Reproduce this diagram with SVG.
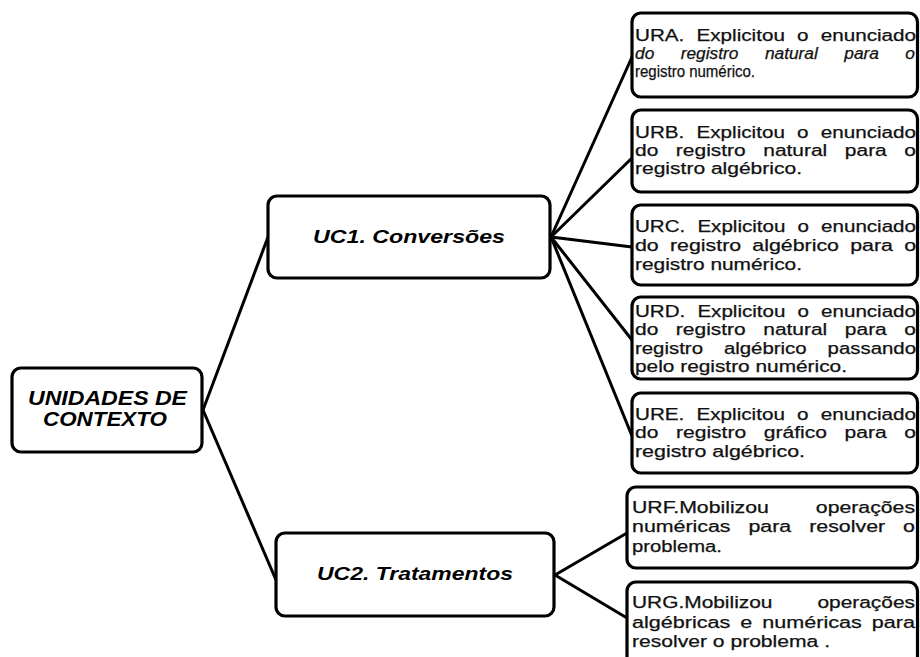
<svg xmlns="http://www.w3.org/2000/svg" width="920" height="657" viewBox="0 0 920 657">
<style>
.box{fill:#fff;stroke:#000;stroke-width:3.2}
.conn{fill:none;stroke:#000;stroke-width:3;stroke-linecap:round}
.hd{font-family:"Liberation Sans",Arial,sans-serif;font-weight:bold;font-style:italic;fill:#000}
.t{font-family:"Liberation Sans",Arial,sans-serif;font-size:16px;fill:#111;stroke:#111;stroke-width:0.25}
.it{font-style:italic}
</style>
<rect width="920" height="657" fill="#fff"/>
<g id="connectors">
<line class="conn" x1="203" y1="410" x2="268" y2="237"/>
<line class="conn" x1="203" y1="410" x2="276" y2="580"/>
<line class="conn" x1="551" y1="237" x2="632" y2="57"/>
<line class="conn" x1="551" y1="237" x2="632" y2="158"/>
<line class="conn" x1="551" y1="237" x2="632" y2="247"/>
<line class="conn" x1="551" y1="237" x2="632" y2="340"/>
<line class="conn" x1="551" y1="237" x2="632" y2="436"/>
<line class="conn" x1="555" y1="575" x2="627" y2="533"/>
<line class="conn" x1="555" y1="575" x2="627" y2="618"/>
</g>
<g id="root">
<rect class="box" x="12" y="368" width="190" height="84" rx="9"/>
<text class="hd" font-size="20" x="28" y="405" textLength="159" lengthAdjust="spacingAndGlyphs">UNIDADES DE</text>
<text class="hd" font-size="20" x="43" y="426" textLength="124" lengthAdjust="spacingAndGlyphs">CONTEXTO</text>
</g>
<g id="uc1">
<rect class="box" x="268" y="196" width="282" height="82" rx="9"/>
<text class="hd" font-size="19" x="313" y="243" textLength="192" lengthAdjust="spacingAndGlyphs">UC1. Conversões</text>
</g>
<g id="uc2">
<rect class="box" x="276" y="533" width="278" height="83" rx="9"/>
<text class="hd" font-size="19" x="317" y="580" textLength="196" lengthAdjust="spacingAndGlyphs">UC2. Tratamentos</text>
</g>
<g id="ura">
<rect class="box" x="632" y="13" width="285.5" height="84" rx="9"/>
<text class="t" x="635" y="41" word-spacing="5" textLength="281" lengthAdjust="spacingAndGlyphs">URA. Explicitou o enunciado</text>
<text class="t it" x="635" y="59" word-spacing="20" textLength="280" lengthAdjust="spacingAndGlyphs">do registro natural para o</text>
<text class="t" x="635" y="77" textLength="120" lengthAdjust="spacingAndGlyphs">registro numérico.</text>
</g>
<g id="urb">
<rect class="box" x="632" y="110" width="285.5" height="82" rx="9"/>
<text class="t" x="635" y="138" word-spacing="5" textLength="281" lengthAdjust="spacingAndGlyphs">URB. Explicitou o enunciado</text>
<text class="t" x="635" y="156" word-spacing="9" textLength="281" lengthAdjust="spacingAndGlyphs">do registro natural para o</text>
<text class="t" x="635" y="174" textLength="167" lengthAdjust="spacingAndGlyphs">registro algébrico.</text>
</g>
<g id="urc">
<rect class="box" x="632" y="205" width="285.5" height="80" rx="9"/>
<text class="t" x="635" y="232" word-spacing="5" textLength="281" lengthAdjust="spacingAndGlyphs">URC. Explicitou o enunciado</text>
<text class="t" x="635" y="251" word-spacing="4" textLength="281" lengthAdjust="spacingAndGlyphs">do registro algébrico para o</text>
<text class="t" x="635" y="270" textLength="167" lengthAdjust="spacingAndGlyphs">registro numérico.</text>
</g>
<g id="urd">
<rect class="box" x="632" y="297" width="285.5" height="82" rx="9"/>
<text class="t" x="635" y="317" word-spacing="5" textLength="281" lengthAdjust="spacingAndGlyphs">URD. Explicitou o enunciado</text>
<text class="t" x="635" y="335" word-spacing="9" textLength="281" lengthAdjust="spacingAndGlyphs">do registro natural para o</text>
<text class="t" x="635" y="354" word-spacing="12" textLength="281" lengthAdjust="spacingAndGlyphs">registro algébrico passando</text>
<text class="t" x="635" y="372" textLength="212" lengthAdjust="spacingAndGlyphs">pelo registro numérico.</text>
</g>
<g id="ure">
<rect class="box" x="632" y="393" width="285.5" height="80" rx="9"/>
<text class="t" x="635" y="420" word-spacing="5" textLength="281" lengthAdjust="spacingAndGlyphs">URE. Explicitou o enunciado</text>
<text class="t" x="635" y="438" word-spacing="9" textLength="281" lengthAdjust="spacingAndGlyphs">do registro gráfico para o</text>
<text class="t" x="635" y="457" textLength="170" lengthAdjust="spacingAndGlyphs">registro algébrico.</text>
</g>
<g id="urf">
<rect class="box" x="627" y="487" width="290.5" height="81" rx="9"/>
<text class="t" x="632" y="513" word-spacing="31" textLength="283" lengthAdjust="spacingAndGlyphs">URF.Mobilizou operações</text>
<text class="t" x="632" y="532" word-spacing="9" textLength="283" lengthAdjust="spacingAndGlyphs">numéricas para resolver o</text>
<text class="t" x="632" y="552" textLength="90" lengthAdjust="spacingAndGlyphs">problema.</text>
</g>
<g id="urg">
<rect class="box" x="627" y="582" width="290.5" height="90" rx="9"/>
<text class="t" x="632" y="608" word-spacing="30" textLength="283" lengthAdjust="spacingAndGlyphs">URG.Mobilizou operações</text>
<text class="t" x="632" y="628" word-spacing="3" textLength="283" lengthAdjust="spacingAndGlyphs">algébricas e numéricas para</text>
<text class="t" x="632" y="647" textLength="198" lengthAdjust="spacingAndGlyphs">resolver o problema .</text>
</g>
</svg>
